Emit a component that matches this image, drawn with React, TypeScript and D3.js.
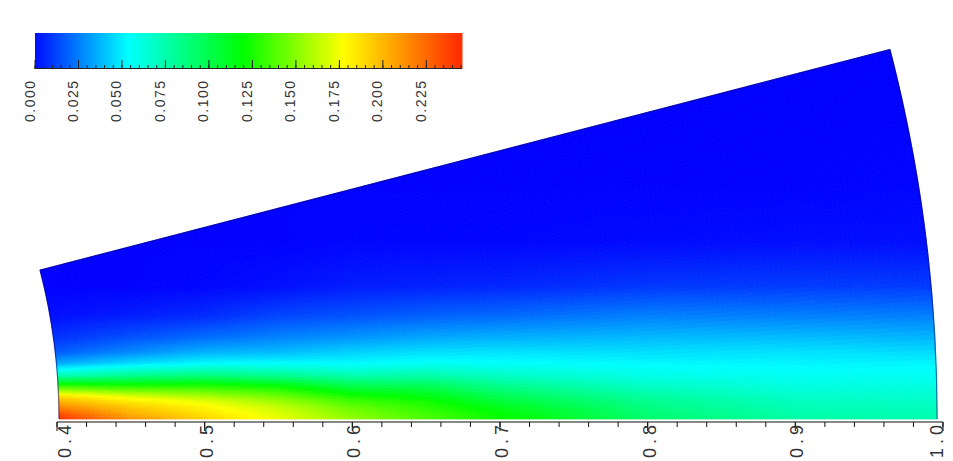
import React from "react";
import * as d3 from "d3";

const W = 953;
const H = 461;

// Colour bar
const colorStops = [0, 0.0563, 0.1224, 0.18, 0.2455];
const colorValues = ["#0000ff", "#00ffff", "#00ff00", "#ffff00", "#ff3000"];
const legendTicks = [0, 0.025, 0.05, 0.075, 0.1, 0.125, 0.15, 0.175, 0.2, 0.225];
const axisTicks = [0.4, 0.5, 0.6, 0.7, 0.8, 0.9, 1.0];

// Field samples: x stations, height stations, one value column per x station
const xStations = [0.4, 0.45, 0.5, 0.55, 0.6, 0.65, 0.7, 0.8, 0.9, 1.0];
const yStations = [0, 0.0041, 0.0082, 0.0123, 0.0157, 0.0218, 0.03, 0.0382, 0.0457, 0.0553, 0.0703, 0.0901, 0.1201, 0.1597, 0.2, 0.26];
const col040 = [0.245, 0.235, 0.218, 0.204, 0.19, 0.14, 0.073, 0.037, 0.02, 0.011, 0.003, 0, 0, 0, 0, 0];
const col045 = [0.215, 0.205, 0.197, 0.186, 0.172, 0.134, 0.084, 0.048, 0.03, 0.018, 0.006, 0, 0, 0, 0, 0];
const col050 = [0.195, 0.188, 0.183, 0.174, 0.16, 0.134, 0.089, 0.055, 0.039, 0.024, 0.009, 0.001, 0, 0, 0, 0];
const col055 = [0.176, 0.172, 0.167, 0.157, 0.147, 0.126, 0.084, 0.056, 0.041, 0.029, 0.015, 0.003, 0, 0, 0, 0];
const col060 = [0.156, 0.151, 0.145, 0.137, 0.127, 0.106, 0.076, 0.055, 0.046, 0.033, 0.018, 0.006, 0.001, 0, 0, 0];
const col065 = [0.14, 0.136, 0.132, 0.126, 0.118, 0.103, 0.078, 0.058, 0.049, 0.037, 0.021, 0.007, 0.001, 0, 0, 0];
const col070 = [0.125, 0.122, 0.116, 0.108, 0.101, 0.088, 0.071, 0.057, 0.05, 0.039, 0.023, 0.008, 0.001, 0, 0, 0];
const col080 = [0.095, 0.092, 0.089, 0.085, 0.081, 0.072, 0.062, 0.055, 0.049, 0.041, 0.028, 0.012, 0.002, 0, 0, 0];
const col090 = [0.08, 0.078, 0.075, 0.073, 0.07, 0.065, 0.059, 0.054, 0.05, 0.042, 0.028, 0.013, 0.003, 0, 0, 0];
const col100 = [0.076, 0.075, 0.073, 0.071, 0.069, 0.064, 0.059, 0.054, 0.048, 0.04, 0.028, 0.013, 0.003, 0.001, 0, 0];
const columns = [col040, col045, col050, col055, col060, col065, col070, col080, col090, col100];

const rInner = 0.4014;
const rOuter = 0.996;
const sweepDeg = 14.55;

const x = d3.scaleLinear().domain([0.4, 1]).range([57, 943]);
const unit = x(1) - x(0);
const originX = x(0);
const originY = 419;

const color = d3.scaleLinear<string>().domain(colorStops).range(colorValues).interpolate(d3.interpolateRgb).clamp(true);
const legendX = d3.scaleLinear().domain([0, 0.2455]).range([35, 462]);

const xi = d3.scaleLinear().domain(xStations).range(xStations.map((_, i) => i)).clamp(true);
const yi = d3.scaleLinear().domain(yStations).range(yStations.map((_, i) => i)).clamp(true);

function field(px: number, py: number): number {
  const a = xi(px);
  const b = yi(py);
  const i = Math.min(Math.floor(a), xStations.length - 2);
  const j = Math.min(Math.floor(b), yStations.length - 2);
  const u = a - i;
  const v = b - j;
  const low = d3.interpolateNumber(columns[i][j], columns[i + 1][j])(u);
  const high = d3.interpolateNumber(columns[i][j + 1], columns[i + 1][j + 1])(u);
  return d3.interpolateNumber(low, high)(v);
}

const rScale = d3.scaleLinear().domain([rInner, rOuter]).range([rInner * unit, rOuter * unit]);
const nR = 170;
const nT = 75;
const toAngle = (deg: number) => Math.PI / 2 - (deg * Math.PI) / 180;
const arc = d3.arc();

const cells: { d: string; fill: string }[] = [];
for (let i = 0; i < nR; i++) {
  const r0 = rInner + ((rOuter - rInner) * i) / nR;
  const r1 = rInner + ((rOuter - rInner) * (i + 1)) / nR;
  for (let j = 0; j < nT; j++) {
    const t0 = (sweepDeg * j) / nT;
    const t1 = (sweepDeg * (j + 1)) / nT;
    const rm = (r0 + r1) / 2;
    const tm = (((t0 + t1) / 2) * Math.PI) / 180;
    const fill = color(field(rm * Math.cos(tm), rm * Math.sin(tm)));
    const d = arc({
      innerRadius: rScale(r0),
      outerRadius: rScale(r1),
      startAngle: toAngle(t1),
      endAngle: toAngle(t0),
    }) as string;
    cells.push({ d, fill });
  }
}

const outline = (() => {
  const p = d3.path();
  const a = (sweepDeg * Math.PI) / 180;
  const ri = rScale(rInner);
  const ro = rScale(rOuter);
  p.arc(0, 0, ri, 0, -a, true);
  p.lineTo(ro * Math.cos(a), -ro * Math.sin(a));
  p.arc(0, 0, ro, -a, 0, false);
  return p.toString();
})();

const legendSlices = d3.range(35, 462, 1);
const legendMinor = d3.range(0, 0.2456, 0.005);
const axisMinor = d3.range(0.4, 1.0001, 0.02);
const labelShift = (v: number) => (v === 0.4 ? 8 : v === 1.0 ? -6 : 2);
const font = "'Liberation Sans', Arial, sans-serif";

export default function App() {
  return (
    <svg width={W} height={H} viewBox={`0 0 ${W} ${H}`} style={{ position: "absolute", left: 0, top: 0, background: "#fff" }}>
      <g transform={`translate(${originX},${originY})`}>
        {cells.map((c, i) => (
          <path key={i} d={c.d} fill={c.fill} stroke={c.fill} strokeWidth={0.8} />
        ))}
        <path d={outline} fill="none" stroke="#000070" strokeOpacity={0.55} strokeWidth={1.2} />
      </g>

      {/* colour bar */}
      {legendSlices.map((px) => (
        <rect key={px} x={px} y={33} width={1.5} height={36} fill={color(legendX.invert(px) + 0.003)} />
      ))}
      <line x1={35} x2={462} y1={68.5} y2={68.5} stroke="#222" strokeWidth={1} />
      {legendMinor.map((v) => (
        <line key={v} x1={legendX(v)} x2={legendX(v)} y1={69} y2={65} stroke="#222" strokeWidth={1} />
      ))}
      {legendTicks.map((v) => (
        <g key={v}>
          <line x1={legendX(v)} x2={legendX(v)} y1={69} y2={60} stroke="#222" strokeWidth={1} />
          <text
            transform={`translate(${legendX(v) - 0.5},122) rotate(-90)`}
            fontFamily={font}
            fontSize={14}
            letterSpacing={1.5}
            fill="#333"
          >
            {d3.format(".3f")(v)}
          </text>
        </g>
      ))}

      {/* bottom axis */}
      <line x1={x(0.4)} x2={x(1)} y1={422} y2={422} stroke="#111" strokeWidth={1.2} />
      {axisMinor.map((v) => (
        <line key={v} x1={x(v)} x2={x(v)} y1={422} y2={427} stroke="#111" strokeWidth={1} />
      ))}
      {axisTicks.map((v) => (
        <g key={v}>
          <line x1={x(v)} x2={x(v)} y1={422} y2={431} stroke="#111" strokeWidth={1} />
          <text
            transform={`translate(${x(v) + labelShift(v) + 6},458) rotate(-90)`}
            fontFamily={font}
            fontSize={18}
            letterSpacing={4}
            fill="#333"
          >
            {d3.format(".1f")(v)}
          </text>
        </g>
      ))}
    </svg>
  );
}
